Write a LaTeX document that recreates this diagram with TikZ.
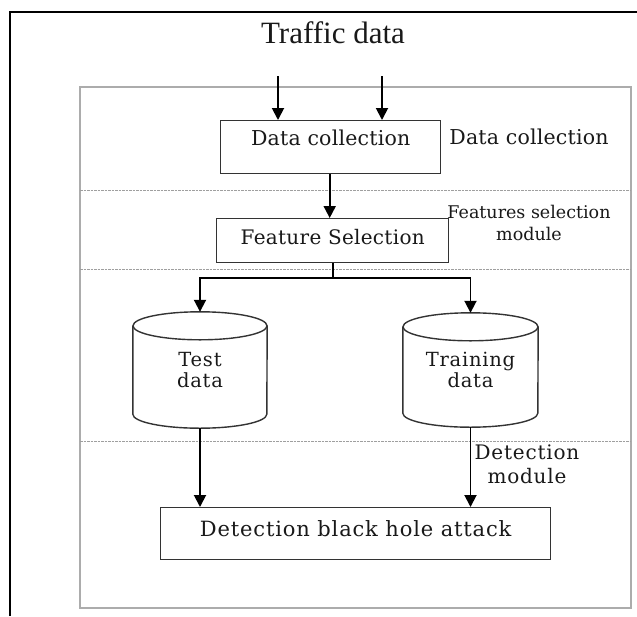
\documentclass[tikz,border=0pt]{standalone}
\usepackage{fontspec}
\setmainfont{DejaVu Serif}
\newfontfamily\headfont{Liberation Serif}
\usetikzlibrary{arrows.meta}
% serif text at a given size with a given tracking
\newcommand{\spaced}[2]{\fontsize{#1}{#1}\selectfont\addfontfeatures{LetterSpace=#2}}
\begin{document}
\begin{tikzpicture}[x=1pt,y=-1pt,
  flowbox/.style={draw=black!80, line width=1.4pt, fill=white, inner sep=0pt,
    text=black!90, anchor=north west},
  arr/.style={-{Triangle[width=12pt,length=12pt]}, line width=1.9pt, black},
  link/.style={line width=1.9pt, black},
  sep/.style={draw=gray!75, line width=0.9pt, dash pattern=on 2.5pt off 1pt},
  panel/.style={draw=gray!65, line width=1.3pt},
  side/.style={align=center, text=black!90, inner sep=0pt},
  store/.style={align=center, text=black!90, inner sep=0pt,
    font={\spaced{19.5}{4}\fontsize{19.5}{21.5}\selectfont}},
  cylline/.style={draw=black!80, line width=1.4pt},
]
\useasboundingbox (0,0) rectangle (637,616);
\fill[white] (0,0) rectangle (637,616);

% outer frame (only left and top edges fall inside the page)
\draw[line width=2.5pt] (10,616) -- (10,12) -- (637,12);

% module panel and its separators
\draw[panel] (80,87) rectangle (631,608);
\draw[sep] (80,190) -- (631,190);
\draw[sep] (80,269) -- (631,269);
\draw[sep] (80,441) -- (631,441);

% source
\node[font=\headfont\fontsize{31}{32}\selectfont, text=black!90, inner sep=0pt]
  (src) at (333,33) {Traffic data};
\coordinate (in1) at (278,76);
\coordinate (in2) at (382,76);

% process boxes
\node[flowbox, minimum width=220pt, minimum height=53pt, text depth=19pt,
  font=\spaced{20.5}{1}] (dc) at (220,120) {Data collection};
\node[flowbox, minimum width=232pt, minimum height=44pt, text depth=7pt,
  font=\spaced{20}{1.5}] (fs) at (216,218) {Feature Selection};
\node[flowbox, minimum width=390pt, minimum height=52pt, text depth=11pt,
  font=\spaced{21}{4}] (det) at (160,507) {Detection black hole attack};

% data stores
\node[store, minimum width=134pt, minimum height=116pt] (test) at (200,370) {Test\\data};
\node[store, minimum width=135pt, minimum height=114pt] (train) at (470.5,370) {Training\\data};

\draw[cylline] ([yshift=-14pt]test.north west) -- ([yshift=14pt]test.south west)
  arc[start angle=180, end angle=360, x radius=67pt, y radius=14pt]
  -- ([yshift=-14pt]test.north east);
\draw[cylline] ([yshift=-14pt]test.north) ellipse[x radius=67pt, y radius=14pt];
\draw[cylline] ([yshift=-14pt]train.north west) -- ([yshift=14pt]train.south west)
  arc[start angle=180, end angle=360, x radius=67.5pt, y radius=14pt]
  -- ([yshift=-14pt]train.north east);
\draw[cylline] ([yshift=-14pt]train.north) ellipse[x radius=67.5pt, y radius=14pt];

% side labels of the modules
\node[side, font=\spaced{20.5}{1}] (lbl1) at (529,137) {Data collection};
\node[side, font={\fontsize{17.5}{22}\selectfont}] (lbl2) at (529,223) {Features selection\\module};
\node[side, font={\spaced{20}{4}\fontsize{20}{24}\selectfont}] (lbl3) at (527,464) {Detection\\module};

% connectors
\draw[arr] (in1) -- (in1 |- dc.north);
\draw[arr] (in2) -- (in2 |- dc.north);
\draw[arr] ([xshift=-1pt]dc.south) -- ([xshift=-1pt]dc.south |- fs.north);
\coordinate (split) at (333,278);
\draw[link] (split |- fs.south) -- (split);
\draw[arr] (split) -| (test.north);
\draw[arr] (split) -| (train.north);
\draw[arr] (test.south) -- (test.south |- det.north);
\draw[arr] (train.south) -- (train.south |- det.north);
\end{tikzpicture}
\end{document}
